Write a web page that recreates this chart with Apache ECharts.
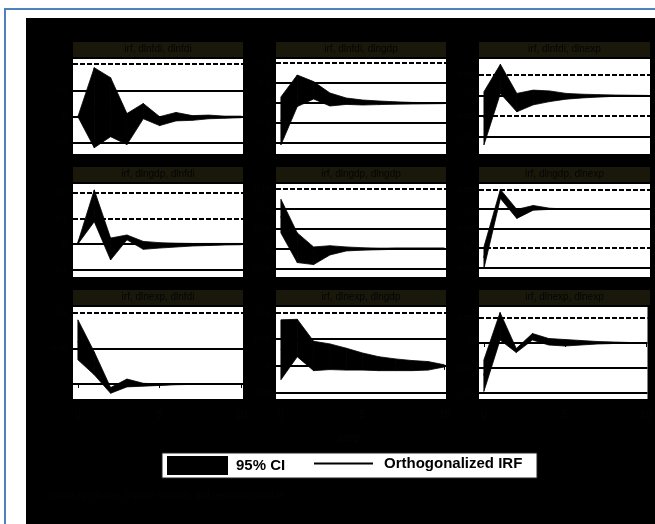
<!DOCTYPE html>
<html>
<head>
<meta charset="utf-8">
<script src="https://cdn.jsdelivr.net/npm/echarts@6/dist/echarts.min.js"></script>
<style>
html,body{margin:0;padding:0;background:#fff;}
#chart{width:655px;height:524px;}
</style>
</head>
<body>
<div id="chart"></div>
<script>
// ---------- data ----------
const steps = [0,1,2,3,4,5,6,7,8,9,10];
const xTicks = [0,5,10];

const titles = [
  "irf, dlnfdi, dlnfdi", "irf, dlnfdi, dlngdp", "irf, dlnfdi, dlnexp",
  "irf, dlngdp, dlnfdi", "irf, dlngdp, dlngdp", "irf, dlngdp, dlnexp",
  "irf, dlnexp, dlnfdi", "irf, dlnexp, dlngdp", "irf, dlnexp, dlnexp"
];

const p1Irf = [0, 0.17, 0.18, -0.23, 0.1, -0.08, 0.0, -0.02, -0.005, -0.01, -0.005];
const p1Lo  = [0, -0.59, -0.38, -0.53, -0.04, -0.17, -0.08, -0.07, -0.04, -0.03, -0.02];
const p1Hi  = [0, 0.93, 0.74, 0.06, 0.25, 0.0, 0.08, 0.02, 0.03, 0.01, 0.01];
const p1Ticks = [-0.5, 0, 0.5, 1];

const p2Irf = [-0.09, 0.06, 0.06, 0.017, 0.009, 0.003, 0.001, 0, -0.001, -0.001, -0.001];
const p2Lo  = [-0.21, -0.018, 0.02, -0.015, -0.007, -0.01, -0.008, -0.006, -0.005, -0.004, -0.003];
const p2Hi  = [0.03, 0.14, 0.107, 0.05, 0.025, 0.015, 0.01, 0.006, 0.003, 0.002, 0.001];
const p2Ticks = [-0.2, -0.1, 0, 0.1, 0.2];

const p3Irf = [-0.055, 0.04, -0.018, -0.005, -0.002, -0.002, -0.0015, -0.001, -0.0005, -0.0005, -0.0005];
const p3Lo  = [-0.121, 0.005, -0.04, -0.023, -0.015, -0.009, -0.006, -0.004, -0.002, -0.0015, -0.001];
const p3Hi  = [0.009, 0.076, 0.005, 0.013, 0.011, 0.005, 0.003, 0.002, 0.001, 0.0005, 0.0];
const p3Ticks = [-0.1, -0.05, 0, 0.05];

const p4Irf = [0.003, 0.15, -0.02, 0.025, -0.005, -0.005, -0.004, -0.003, -0.002, -0.001, -0.001];
const p4Lo  = [0.0, 0.087, -0.0625, 0.016, -0.021, -0.016, -0.012, -0.008, -0.006, -0.004, -0.003];
const p4Hi  = [0.006, 0.211, 0.023, 0.035, 0.01, 0.005, 0.003, 0.002, 0.002, 0.002, 0.002];
const p4Ticks = [-0.1, 0, 0.1, 0.2];

const p5Irf = [0.08, 0.003, -0.018, -0.005, -0.001, -0.001, -0.001, 0, 0, 0, 0];
const p5Lo  = [0.039, -0.035, -0.04, -0.016, -0.006, -0.004, -0.003, -0.002, -0.001, -0.001, -0.001];
const p5Hi  = [0.123, 0.039, 0.004, 0.007, 0.004, 0.002, 0.001, 0.001, 0.001, 0.001, 0.001];
const p5Ticks = [-0.05, 0, 0.05, 0.1, 0.15];

const p6Irf = [-0.125, 0.04, -0.012, 0.003, 0.0, 0, 0, 0, 0, 0, 0];
const p6Lo  = [-0.152, 0.027, -0.024, -0.003, -0.001, -0.001, -0.001, -0.001, -0.001, -0.001, -0.001];
const p6Hi  = [-0.097, 0.05, -0.001, 0.009, 0.002, 0.0, 0.0, 0.0, 0.0, 0.0, 0.0];
const p6Ticks = [-0.15, -0.1, -0.05, 0, 0.05];

const p7Irf = [0.06, 0.03, -0.009, 0.002, -0.001, -0.001, 0, 0, 0, 0, 0];
const p7Lo  = [0.034, 0.013, -0.013, -0.004, -0.003, -0.002, -0.001, -0.0005, -0.0005, -0.0005, -0.0005];
const p7Hi  = [0.09, 0.045, -0.005, 0.007, 0.001, 0.0, 0.0, 0.0, 0.0, 0.0, 0.0];
const p7Ticks = [0, 0.05, 0.1];

const p8Irf = [0.03, 0.05, 0.018, 0.017, 0.012, 0.008, 0.004, 0.002, 0.001, 0, 0];
const p8Lo  = [-0.026, 0.017, -0.009, -0.007, -0.008, -0.008, -0.009, -0.009, -0.009, -0.008, -0.002];
const p8Hi  = [0.086, 0.087, 0.046, 0.041, 0.033, 0.024, 0.017, 0.013, 0.01, 0.008, 0.002];
const p8Ticks = [-0.05, 0, 0.05, 0.1];

const p9Irf = [-0.065, 0.035, -0.015, 0.012, 0.002, 0.0, 0.0, 0.0, 0.0, 0.0, 0.0];
const p9Lo  = [-0.097, 0.006, -0.019, 0.006, -0.004, -0.006, -0.004, -0.002, -0.001, -0.001, 0.0];
const p9Hi  = [-0.034, 0.061, -0.011, 0.019, 0.009, 0.007, 0.005, 0.003, 0.002, 0.001, 0.001];
const p9Ticks = [-0.1, -0.05, 0, 0.05];

// ---------- layout / style ----------
const panels = [
  {irf:p1Irf, lo:p1Lo, hi:p1Hi, ticks:p1Ticks, min:-0.709, max:1.095, dashed:[1]},
  {irf:p2Irf, lo:p2Lo, hi:p2Hi, ticks:p2Ticks, min:-0.255, max:0.22, dashed:[0.2]},
  {irf:p3Irf, lo:p3Lo, hi:p3Hi, ticks:p3Ticks, min:-0.143, max:0.089, dashed:[0.05,-0.05]},
  {irf:p4Irf, lo:p4Lo, hi:p4Hi, ticks:p4Ticks, min:-0.129, max:0.234, dashed:[0.1,0.2]},
  {irf:p5Irf, lo:p5Lo, hi:p5Hi, ticks:p5Ticks, min:-0.071, max:0.161, dashed:[0.15]},
  {irf:p6Irf, lo:p6Lo, hi:p6Hi, ticks:p6Ticks, min:-0.174, max:0.064, dashed:[0.05,-0.1]},
  {irf:p7Irf, lo:p7Lo, hi:p7Hi, ticks:p7Ticks, min:-0.021, max:0.108, dashed:[0.1]},
  {irf:p8Irf, lo:p8Lo, hi:p8Hi, ticks:p8Ticks, min:-0.062, max:0.11, dashed:[0.1]},
  {irf:p9Irf, lo:p9Lo, hi:p9Hi, ticks:p9Ticks, min:-0.112, max:0.072, dashed:[0.05]}
];
const cols = [{left:73,width:170},{left:276,width:170},{left:479,width:171}];
const rows = [{top:59,height:95,band:42},{top:184,height:93,band:167},{top:307,height:92,band:290}];
const FONT = 'Liberation Sans, Arial, sans-serif';
const TXT = '#050505';
const BAND = '#1a180b';

const grid = [], xAxis = [], yAxis = [], series = [], title = [];
const graphic = [
  {type:'rect', z:-20, shape:{x:5,y:9,width:700,height:600}, style:{fill:'#fff', stroke:'#4f81bd', lineWidth:2}},
  {type:'rect', z:-19, shape:{x:26,y:18,width:640,height:520}, style:{fill:'#000'}},
  {type:'rect', z:3, shape:{x:162,y:453,width:375,height:25}, style:{fill:'#fff', stroke:'#222', lineWidth:1}}
];

panels.forEach((p, k) => {
  const r = rows[Math.floor(k/3)], c = cols[k%3];
  const bottomRow = Math.floor(k/3) === 2;
  grid.push({left:c.left, top:r.top, width:c.width, height:r.height, show:true,
             backgroundColor:'#fff', borderWidth:0, containLabel:false});
  graphic.push({type:'rect', z:-5, shape:{x:c.left, y:r.band, width:c.width, height:15}, style:{fill:BAND}});
  title.push({text:titles[k], left:c.left + c.width/2, top:r.band+2, textAlign:'center',
              textStyle:{fontFamily:FONT, fontSize:10, fontWeight:'normal', color:TXT}, padding:0});
  xAxis.push({type:'value', gridIndex:k, min:-0.3, max:10.1,
    axisLine:{show:false}, splitLine:{show:false},
    axisTick:{show:bottomRow, customValues:xTicks, length:4, lineStyle:{color:TXT}},
    axisLabel:{show:bottomRow, customValues:xTicks, color:TXT, fontFamily:FONT, fontSize:11, margin:10}});
  yAxis.push({type:'value', gridIndex:k, min:p.min, max:p.max,
    axisLine:{show:false}, splitLine:{show:false},
    axisTick:{show:true, customValues:p.ticks, length:4, lineStyle:{color:TXT}},
    axisLabel:{show:true, customValues:p.ticks, color:TXT, fontFamily:FONT, fontSize:8, margin:6}});
  const band = steps.map((s,i) => [s, p.lo[i], p.hi[i]]);
  series.push({
    name:'95% CI', type:'custom', xAxisIndex:k, yAxisIndex:k, z:2,
    itemStyle:{color:'#000'},
    encode:{x:0, y:[1,2]},
    data: band,
    renderItem: (params, api) => {
      const i = params.dataIndex;
      if (i >= band.length - 1) return null;
      const nx = band[i+1];
      const pts = [
        api.coord([api.value(0), api.value(1)]),
        api.coord([nx[0], nx[1]]),
        api.coord([nx[0], nx[2]]),
        api.coord([api.value(0), api.value(2)])
      ];
      return {type:'polygon', shape:{points:pts}, style:{fill:'#000', stroke:'#000', lineWidth:0.8}};
    }
  });
  series.push({
    name:'Orthogonalized IRF', type:'line', xAxisIndex:k, yAxisIndex:k, z:3,
    data: steps.map((s,i) => [s, p.irf[i]]),
    symbol:'none', color:'#000', lineStyle:{color:'#000', width:1.5},
    markLine:{silent:true, symbol:'none', label:{show:false}, animation:false,
      lineStyle:{color:'#000', width:2, type:'solid'},
      data: p.ticks.map(v => ({yAxis:v, lineStyle:{color:'#000', width:2,
             type: p.dashed.includes(v) ? [5,2] : 'solid'}}))}
  });
});

title.push({text:'step', left:349, top:432, textAlign:'center',
  textStyle:{fontFamily:FONT, fontSize:11, fontWeight:'normal', color:TXT}, padding:0});
title.push({text:'Graphs by irfname, impulse variable, and response variable', left:46, top:491,
  textStyle:{fontFamily:FONT, fontSize:9, fontWeight:'normal', color:TXT}, padding:0});

const option = {
  animation:false,
  backgroundColor:'#fff',
  title, grid, xAxis, yAxis, series, graphic,
  legend:[
    {data:[{name:'95% CI', icon:'rect'}], left:167, top:456, itemWidth:61, itemHeight:19, padding:0,
     selectedMode:false, textStyle:{fontFamily:FONT, fontSize:15, fontWeight:'bold', color:'#000', padding:[0,0,0,3]}},
    {data:[{name:'Orthogonalized IRF', icon:'rect'}], left:314, top:456, itemWidth:59, itemHeight:2, padding:0,
     selectedMode:false, itemStyle:{color:'#000'},
     textStyle:{fontFamily:FONT, fontSize:15, fontWeight:'bold', color:'#000', padding:[0,0,0,6]}}
  ]
};
const chart = echarts.init(document.getElementById('chart'), null, {renderer:'canvas'});
chart.setOption(option);
</script>
</body>
</html>
